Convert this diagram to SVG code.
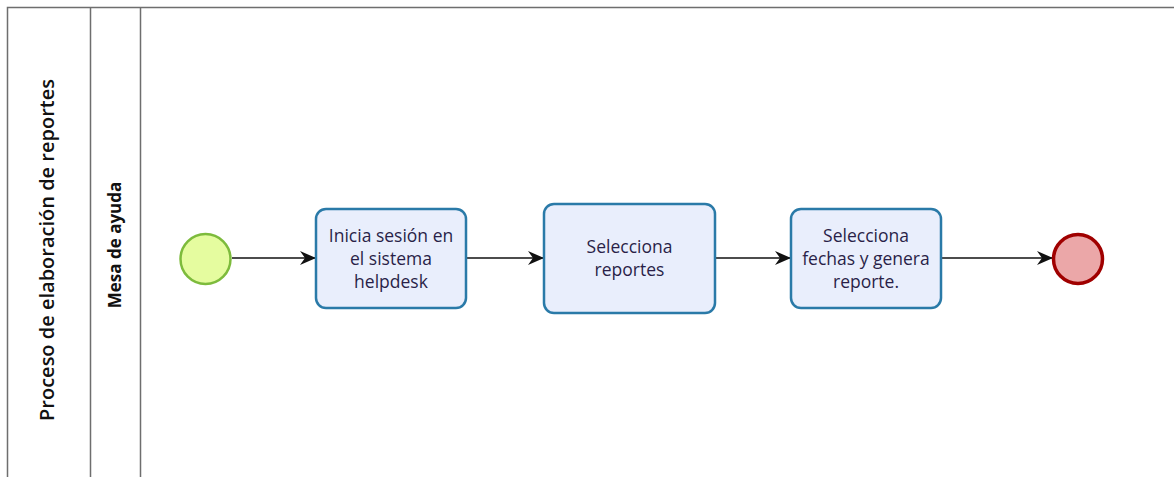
<svg xmlns="http://www.w3.org/2000/svg" width="1174" height="477" viewBox="0 0 1174 477">
<defs>
<style>
.lane{fill:none;stroke:#6e6e6e;stroke-width:1.5}
.task{fill:#e9eefc;stroke:#2a7aa8;stroke-width:2.5}
.t{font-family:"Open Sans","Noto Sans",sans-serif;font-size:17.5px;fill:#2a1f48;text-anchor:middle}
.edge{stroke:#111;stroke-width:1.6;fill:none;marker-end:url(#arr)}
</style>
<marker id="arr" viewBox="0 0 16 16" refX="15" refY="8" markerWidth="16" markerHeight="16" markerUnits="userSpaceOnUse" orient="auto">
<path d="M0,1 L16,8 L0,15 L5,8 Z" fill="#111"/>
</marker>
</defs>
<rect width="1174" height="477" fill="#fff"/>
<g id="pool">
<path class="lane" d="M7.5,480 V7.5 H1180 M90.5,7.5 V480 M140.5,7.5 V480"/>
<text transform="translate(54,250) rotate(-90)" font-family="'Open Sans','Noto Sans',sans-serif" font-size="20" font-weight="600" fill="#111" text-anchor="middle">Proceso de elaboración de reportes</text>
<text transform="translate(121,245) rotate(-90)" font-family="'Open Sans','Noto Sans',sans-serif" font-size="17" font-weight="bold" fill="#111" text-anchor="middle">Mesa de ayuda</text>
</g>
<g id="connectors">
<line class="edge" x1="232" y1="258" x2="315" y2="258"/>
<line class="edge" x1="467" y1="258" x2="543" y2="258"/>
<line class="edge" x1="715" y1="258" x2="790" y2="258"/>
<line class="edge" x1="942" y1="258" x2="1052" y2="258"/>
</g>
<g id="start">
<circle cx="205.5" cy="259" r="25" fill="#e5fc9f" stroke="#7dbb3c" stroke-width="2.5"/>
</g>
<g id="task1">
<rect class="task" x="316" y="209" width="150" height="99" rx="10"/>
<text class="t" x="391" y="242">Inicia sesión en</text>
<text class="t" x="391" y="265">el sistema</text>
<text class="t" x="391" y="288">helpdesk</text>
</g>
<g id="task2">
<rect class="task" x="544" y="204" width="171" height="109" rx="10"/>
<text class="t" x="629.5" y="253">Selecciona</text>
<text class="t" x="629.5" y="276">reportes</text>
</g>
<g id="task3">
<rect class="task" x="791" y="209" width="150" height="99" rx="10"/>
<text class="t" x="866" y="242">Selecciona</text>
<text class="t" x="866" y="265">fechas y genera</text>
<text class="t" x="866" y="288">reporte.</text>
</g>
<g id="end">
<circle cx="1078" cy="259" r="24.5" fill="#eba7a8" stroke="#a00000" stroke-width="3.5"/>
</g>
</svg>
